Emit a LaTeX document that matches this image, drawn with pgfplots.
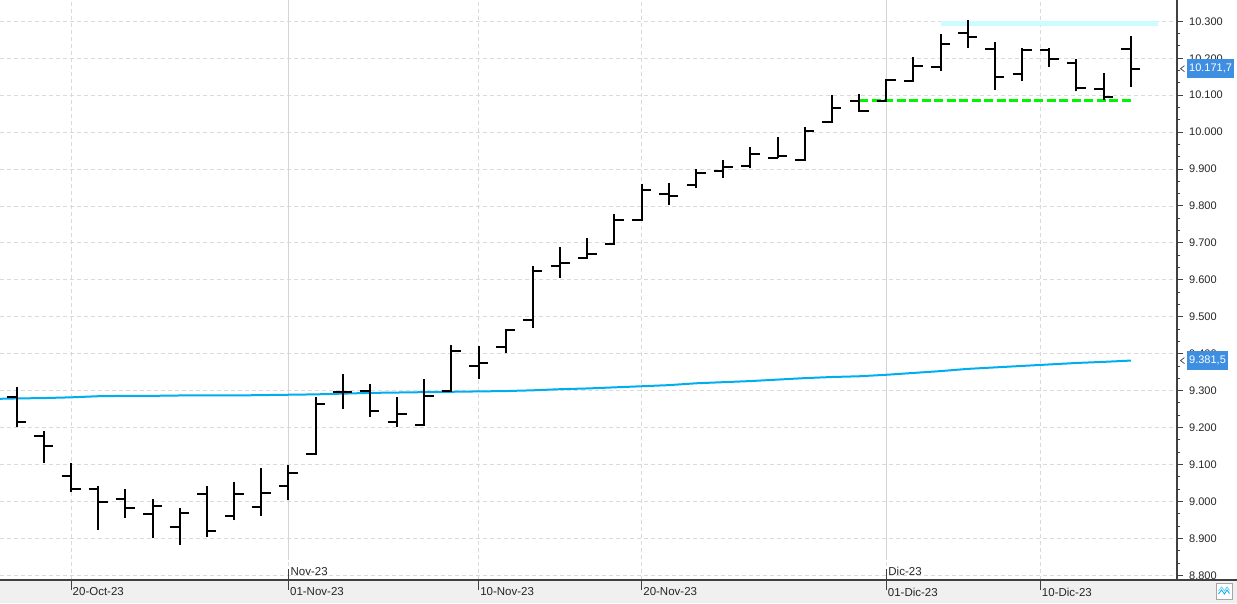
\documentclass[border=0pt]{standalone}
\usepackage{pgfplots}
\pgfplotsset{compat=1.18}
\usepackage{pgfplotstable}
\usepackage{fontspec}
\setmainfont{Liberation Sans}

\definecolor{gridgray}{RGB}{218,218,218}
\definecolor{monthgray}{RGB}{212,212,212}
\definecolor{maBlue}{RGB}{0,174,239}
\definecolor{supGreen}{RGB}{0,245,0}
\definecolor{resCyan}{RGB}{204,252,255}
\definecolor{tagBlue}{RGB}{62,142,225}
\definecolor{bandGray}{RGB}{240,240,240}
\definecolor{axisDark}{RGB}{64,64,64}

\pgfdeclareplotmark{ohlcopen}{\pgfpathmoveto{\pgfqpoint{-9.5pt}{0pt}}\pgfpathlineto{\pgfqpoint{0.9pt}{0pt}}\pgfusepathqstroke}
\pgfdeclareplotmark{ohlcclose}{\pgfpathmoveto{\pgfqpoint{-0.9pt}{0pt}}\pgfpathlineto{\pgfqpoint{9.5pt}{0pt}}\pgfusepathqstroke}

\pgfplotstableread{
i O H L C
0 9282 9311 9203 9216
1 9178 9192 9104 9151
2 9070 9104 9025 9034
3 9034 9041 8922 9000
4 9008 9034 8954 8982
5 8965 9007 8900 8989
6 8931 8983 8881 8968
7 9019 9042 8905 8921
8 8960 9052 8949 9019
9 8985 9090 8962 9022
10 9043 9098 9003 9078
11 9128 9284 9126 9264
12 9296 9345 9251 9296
13 9300 9318 9228 9246
14 9214 9284 9203 9238
15 9208 9332 9208 9286
16 9300 9423 9299 9408
17 9368 9420 9331 9376
18 9419 9465 9401 9465
19 9492 9638 9471 9624
20 9637 9689 9605 9645
21 9658 9714 9658 9669
22 9698 9778 9698 9763
23 9763 9859 9763 9842
24 9833 9862 9802 9828
25 9856 9900 9849 9890
26 9894 9924 9875 9906
27 9909 9959 9902 9942
28 9929 9986 9929 9936
29 9925 10015 9922 10004
30 10028 10100 10028 10064
31 10084 10104 10054 10058
32 10085 10141 10085 10141
33 10139 10203 10139 10179
34 10177 10265 10165 10239
35 10268 10304 10229 10258
36 10225 10243 10114 10148
37 10156 10229 10137 10223
38 10221 10227 10177 10198
39 10186 10198 10110 10120
40 10118 10159 10087 10096
41 10225 10259 10123 10172
}\ohlc

\begin{document}
\begin{tikzpicture}
\fill[bandGray] (0pt,0pt) rectangle (1237pt,23pt);
\begin{axis}[
  at={(0pt,23pt)}, anchor=south west,
  scale only axis, width=1177pt, height=580pt,
  xmin=-0.614, xmax=42.70, ymin=8787.5, ymax=10357.6,
  axis x line*=bottom, axis y line*=right,
  axis line style={axisDark, line width=1.3pt},
  clip mode=individual,
  tick align=outside,
  xtick={2,10,17,23,32,37.67},
  xticklabels={20-Oct-23,01-Nov-23,10-Nov-23,20-Nov-23,01-Dic-23,10-Dic-23},
  ytick={8800,8900,...,10300},
  minor y tick num=2,
  major tick length=6pt, minor tick length=3.5pt,
  tick style={axisDark, line width=1pt},
  xtick style={/pgfplots/major tick length=10pt},
  ymajorgrids, xmajorgrids,
  major grid style={gridgray, line width=0.9pt, dash pattern=on 4pt off 3pt},
  scaled y ticks=false,
  yticklabel style={font=\fontsize{11}{13}\selectfont, anchor=west, inner sep=0pt, xshift=6pt, text=black!85},
  xticklabel style={font=\fontsize{11.5}{13}\selectfont, anchor=west, inner sep=0pt, xshift=1.5pt, yshift=-6pt, text=black!85},
  /pgf/number format/1000 sep={.},
  /pgf/number format/assume math mode=true,
]
\draw[monthgray, line width=1pt] (axis cs:10,10357.6) -- ([yshift=20pt]axis cs:10,8787.5);
\draw[monthgray, line width=1pt] (axis cs:32,10357.6) -- ([yshift=20pt]axis cs:32,8787.5);
\draw[axisDark, line width=1pt] (axis cs:10,8787.5) -- ++(0pt,11pt);
\draw[axisDark, line width=1pt] (axis cs:32,8787.5) -- ++(0pt,11pt);
\node[anchor=south west, inner sep=0pt, font=\fontsize{11.5}{13}\selectfont, text=black!85] at ([xshift=2pt,yshift=4pt]axis cs:10,8787.5) {Nov-23};
\node[anchor=south west, inner sep=0pt, font=\fontsize{11.5}{13}\selectfont, text=black!85] at ([xshift=2pt,yshift=4pt]axis cs:32,8787.5) {Dic-23};

\addplot[maBlue, line width=2pt] coordinates {
(-0.62,9278) (0,9279) (1,9280) (2,9282) (3,9285) (4,9286) (5,9286) (6,9287) (7,9287) (8,9287)
(9,9288) (10,9289) (11,9290) (12,9292) (13,9294) (14,9295) (15,9296) (16,9297) (17,9298) (18,9299)
(19,9301) (20,9304) (21,9306) (22,9309) (23,9312) (24,9315) (25,9320) (26,9323) (27,9326) (28,9330)
(29,9334) (30,9337) (31,9339) (32,9343) (33,9348) (34,9353) (35,9359) (36,9363) (37,9367) (38,9371)
(39,9375) (40,9378) (41,9381.5)};
\addplot[supGreen, line width=3pt, dash pattern=on 9pt off 3.5pt] coordinates {(31,10085) (41,10085)};
\addplot[resCyan, line width=4.5pt] coordinates {(34,10294) (42,10294)};

\addplot[draw=none, mark=none, error bars/.cd, y dir=plus, y explicit, error mark=none,
  error bar style={draw=black, solid, line width=2pt}]
  table[x=i, y=L, y error expr=\thisrow{H}-\thisrow{L}] {\ohlc};
\addplot[only marks, mark=ohlcopen, mark options={black, solid, line width=2pt}] table[x=i, y=O] {\ohlc};
\addplot[only marks, mark=ohlcclose, mark options={black, solid, line width=2pt}] table[x=i, y=C] {\ohlc};

\coordinate (tagA) at (axis cs:42.70,10171.7);
\coordinate (tagB) at (axis cs:42.70,9381.5);
\end{axis}
\node[fill=tagBlue, text=white, font=\fontsize{11}{13}\selectfont, inner xsep=2.5pt, inner ysep=0pt, minimum height=19pt, anchor=west] at ([xshift=9.5pt]tagA) {10.171,7};
\node[fill=tagBlue, text=white, font=\fontsize{11}{13}\selectfont, inner xsep=2.5pt, inner ysep=0pt, minimum height=19pt, anchor=west] at ([xshift=9.5pt]tagB) {9.381,5};
\draw[axisDark, line width=0.7pt] ([xshift=7.5pt,yshift=3pt]tagA) -- ([xshift=3.5pt]tagA) -- ([xshift=7.5pt,yshift=-3pt]tagA);
\draw[axisDark, line width=0.7pt] ([xshift=7.5pt,yshift=3pt]tagB) -- ([xshift=3.5pt]tagB) -- ([xshift=7.5pt,yshift=-3pt]tagB);
\draw[axisDark, line width=1.3pt] (0pt,23pt) -- (1237pt,23pt);
\draw[black!35, fill=white, line width=0.7pt] (1216pt,4pt) rectangle (1232pt,20pt);
\draw[maBlue, line width=0.8pt] (1218.5pt,9pt) -- (1221.5pt,13pt) -- (1224.5pt,9pt) -- (1227pt,13pt) -- (1229.5pt,9.5pt);
\draw[maBlue!60, line width=0.8pt] (1218.5pt,12pt) -- (1221.5pt,16pt) -- (1224.5pt,12pt) -- (1227pt,16pt) -- (1229.5pt,12.5pt);
\pgfresetboundingbox
\path[use as bounding box] (0pt,0pt) rectangle (1237pt,603pt);
\end{tikzpicture}
\end{document}
